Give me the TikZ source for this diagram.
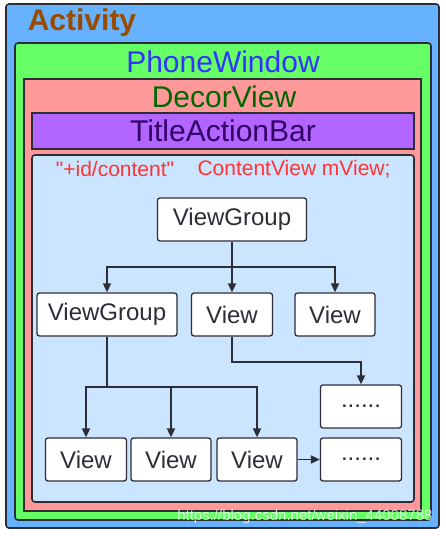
\documentclass[tikz,border=0pt]{standalone}
\usepackage{fontspec}
\setmainfont{Liberation Sans}
\usetikzlibrary{
  arrows.meta,
  positioning,
}

\definecolor{actblue}{RGB}{102,178,255}
\definecolor{winGreen}{RGB}{102,255,102}
\definecolor{decorRed}{RGB}{255,153,153}
\definecolor{barPurple}{RGB}{178,102,255}
\definecolor{contentBlue}{RGB}{204,229,255}
\definecolor{edge}{RGB}{45,45,55}

\tikzset{
  layer/.style={
    draw=edge,
    line width=1.6pt,
  },
  viewbox/.style={
    draw=edge,
    fill=white,
    line width=1.3pt,
    rounded corners=2.5pt,
    minimum height=43pt,
    inner sep=0pt,
    font=\fontsize{24}{26}\selectfont,
    text=edge,
  },
  tree/.style={
    draw=edge,
    line width=1.8pt,
  },
  arr/.style={
    tree,
    -{Triangle[length=9pt,width=8pt]},
  },
  heading/.style={
    font=\fontsize{30}{32}\selectfont,
  },
}

\begin{document}
\begin{tikzpicture}[x=1pt,y=1pt]
\useasboundingbox (0,0) rectangle (446,-537);
\fill[white] (0,0) rectangle (446,-537);

% nested containers
\draw[layer, fill=actblue, rounded corners=3pt] (6,-4) rectangle (439,-528);
\node[font=\fontsize{30}{32}\selectfont\bfseries, text={rgb,255:red,153;green,76;blue,0}] (activity) at (82,-23) {Activity};

\draw[layer, fill=winGreen, rounded corners=3pt] (15,-43) rectangle (431,-520);
\node[heading, text={rgb,255:red,51;green,51;blue,255}] (window) at (223,-62) {PhoneWindow};

\draw[layer, fill=decorRed] (24,-79) rectangle (421,-511);
\node[heading, text={rgb,255:red,0;green,102;blue,0}] (decor) at (224,-97) {DecorView};

\draw[layer, fill=barPurple] (32,-113) rectangle (414,-149);
\node[heading, text={rgb,255:red,51;green,0;blue,102}] (titlebar) at (223,-131) {TitleActionBar};

\draw[layer, fill=contentBlue, rounded corners=3pt] (32,-155) rectangle (414,-502);
\node[font=\fontsize{21}{23}\selectfont, text={rgb,255:red,255;green,51;blue,51}] (contentid) at (115,-169) {\textquotedbl+id/content\textquotedbl};
\node[font=\fontsize{21}{23}\selectfont, text={rgb,255:red,255;green,51;blue,51}] (contentview) at (294,-169) {ContentView mView;};

% view tree
\node[viewbox, minimum width=149pt] (root) at (232,-219.5) {ViewGroup};

\node[viewbox, minimum width=140pt] (vg) at (107,-314.5) {ViewGroup};
\node[viewbox, minimum width=81pt] (v1) at (232,-314.5) {View};
\node[viewbox, minimum width=80pt] (v2) at (335,-314.5) {View};

\node[viewbox, minimum width=81pt] (dotsA) at (361,-406.5) {......};

\node[viewbox, minimum width=81pt] (b1) at (86,-459.5) {View};
\node[viewbox, minimum width=80pt] (b2) at (171,-459.5) {View};
\node[viewbox, minimum width=80pt] (b3) at (257,-459.5) {View};
\node[viewbox, minimum width=81pt] (dotsB) at (361,-459.5) {......};

\coordinate (rj) at (232,-267);
\draw[arr] (root) -- (v1);
\draw[arr] (rj) -| (vg.north);
\draw[arr] (rj) -| (v2.north);

\draw[arr] (v1.south) -- ++(0,-25) -| (dotsA.north);

\coordinate (gj) at (107,-387);
\draw[tree] (vg.south) -- (gj);
\draw[arr] (gj) -| (b1.north);
\draw[arr] (gj) -| (b2.north);
\draw[arr] (gj) -| (b3.north);

\draw[arr] (b3) -- (dotsB);

\node[font=\fontsize{15}{16}\selectfont, text=white, opacity=0.75, anchor=east] (mark) at (436,-517) {https://blog.csdn.net/weixin\_44008788};
\end{tikzpicture}
\end{document}
